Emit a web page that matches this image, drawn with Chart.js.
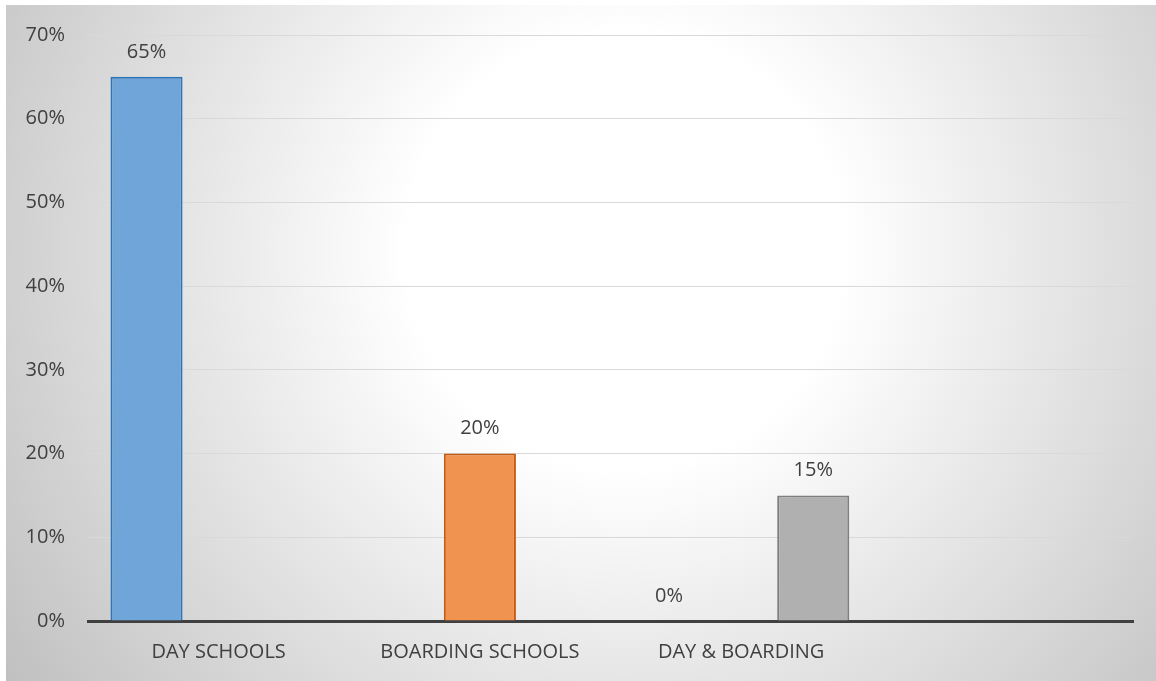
<!DOCTYPE html>
<html>
<head>
<meta charset="utf-8">
<script src="https://cdn.jsdelivr.net/npm/chart.js@4/dist/chart.umd.min.js"></script>
<style>
  html, body { margin: 0; padding: 0; background: #ffffff; }
  #wrap { width: 1156px; height: 681px; }
</style>
</head>
<body>
<div id="wrap"><canvas id="myChart" width="1156" height="681"></canvas></div>
<script>
const categories = ['DAY SCHOOLS', 'BOARDING SCHOOLS', 'DAY & BOARDING', ''];
const daySchools = [65, null, 0, null];
const boardingSchools = [null, 20, null, null];
const dayAndBoarding = [null, null, 15, null];
const yTicks = [0, 10, 20, 30, 40, 50, 60, 70];

const textColor = '#404040';
const fontFamily = '"Open Sans", "Liberation Sans", sans-serif';

// radial grey-white backdrop like the Excel chart area
const backdrop = {
  id: 'backdrop',
  beforeDraw(chart) {
    const ctx = chart.ctx;
    ctx.save();
    ctx.fillStyle = '#ffffff';
    ctx.fillRect(0, 0, chart.width, chart.height);
    const g = ctx.createRadialGradient(625, 250, 0, 625, 250, 780);
    g.addColorStop(0, '#ffffff');
    g.addColorStop(0.28, '#ffffff');
    g.addColorStop(1, '#bdbdbd');
    ctx.fillStyle = g;
    ctx.fillRect(6, 5, chart.width - 6, chart.height - 5);
    ctx.restore();
  }
};

// value labels above each bar
const valueLabels = {
  id: 'valueLabels',
  afterDatasetsDraw(chart) {
    const ctx = chart.ctx;
    ctx.save();
    ctx.font = '20px ' + fontFamily;
    ctx.fillStyle = textColor;
    ctx.textAlign = 'center';
    ctx.textBaseline = 'middle';
    chart.data.datasets.forEach((ds, i) => {
      chart.getDatasetMeta(i).data.forEach((el, j) => {
        const v = ds.data[j];
        if (v === null || v === undefined) return;
        ctx.fillText(v + '%', el.x, el.y - 25);
      });
    });
    ctx.restore();
  }
};

const config = {
  type: 'bar',
  data: {
    labels: categories,
    datasets: [
      { label: 'Day', data: daySchools, backgroundColor: '#6fa5d9', borderColor: '#2e75b6',
        borderWidth: ctx => ctx.raw ? 2 : 0 },
      { label: 'Boarding', data: boardingSchools, backgroundColor: '#f09250', borderColor: '#c55a11',
        borderWidth: 2 },
      { label: 'Day & Boarding', data: dayAndBoarding, backgroundColor: '#b0b0b0', borderColor: '#7f7f7f',
        borderWidth: 2 }
    ]
  },
  options: {
    responsive: false,
    animation: false,
    events: [],
    layout: { padding: { top: 34, right: 23, bottom: 0, left: 6 } },
    datasets: { bar: { categoryPercentage: 0.828, barPercentage: 1.0, borderSkipped: 'start' } },
    plugins: { legend: { display: false }, tooltip: { enabled: false } },
    scales: {
      x: {
        grid: { display: false, drawTicks: false },
        border: { display: true, color: '#404040', width: 3 },
        ticks: { color: textColor, font: { family: fontFamily, size: 20 }, padding: 19, maxRotation: 0 },
        afterFit(s) { s.height = 60; }
      },
      y: {
        min: 0, max: 70,
        afterBuildTicks(s) { s.ticks = yTicks.map(v => ({ value: v })); },
        grid: { color: '#d9d9d9', lineWidth: 1, drawTicks: false },
        border: { display: false },
        ticks: { color: textColor, font: { family: fontFamily, size: 20 }, padding: 23,
          callback: v => v + '%' },
        afterFit(s) { s.width = 82; }
      }
    }
  },
  plugins: [backdrop, valueLabels]
};

new Chart(document.getElementById('myChart'), config);
</script>
</body>
</html>
